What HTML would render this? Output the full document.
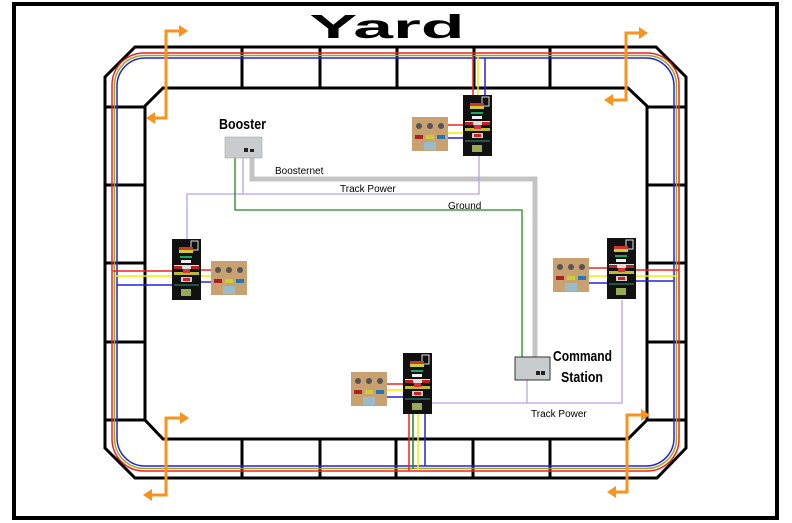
<!DOCTYPE html>
<html><head><meta charset="utf-8"><style>
html,body{margin:0;padding:0;background:#fff;}
svg{display:block;}
text{font-family:"Liberation Sans",Arial,sans-serif;}
</style></head><body>
<svg width="792" height="523" viewBox="0 0 792 523" xmlns="http://www.w3.org/2000/svg">
<defs>
<g id="panel">
  <rect x="0" y="0" width="29" height="61" fill="#111"/>
  <rect x="19" y="2" width="7" height="9" fill="none" stroke="#ddd" stroke-width="1"/>
  <rect x="7" y="8" width="14" height="3" fill="#c33"/>
  <rect x="7" y="11" width="14" height="3" fill="#cc3"/>
  <rect x="8" y="17" width="12" height="2" fill="#1a6"/>
  <rect x="9" y="21" width="10" height="3" fill="#eee"/>
  <rect x="2" y="26" width="25" height="4" fill="#ddd"/>
  <rect x="2" y="27" width="8" height="3" fill="#b22"/>
  <rect x="19" y="27" width="8" height="3" fill="#b22"/>
  <rect x="2" y="33" width="25" height="3" fill="#bb3"/>
  <rect x="11" y="30" width="7" height="4" fill="#d33"/>
  <rect x="9" y="38" width="11" height="5" fill="#ccc"/>
  <rect x="11" y="39" width="7" height="3" fill="#c22"/>
  <rect x="2" y="45" width="25" height="2" fill="#254"/>
  <rect x="9" y="50" width="10" height="7" fill="#9a5"/>
</g>
<g id="tan">
  <rect x="0" y="0" width="36" height="34" fill="#c9a070"/>
  <circle cx="7" cy="9" r="3" fill="#555"/>
  <circle cx="18" cy="9" r="3" fill="#555"/>
  <circle cx="29" cy="9" r="3" fill="#555"/>
  <rect x="3" y="18" width="8" height="4" fill="#a22"/>
  <rect x="14" y="18" width="8" height="4" fill="#cc3"/>
  <rect x="25" y="18" width="8" height="4" fill="#27b"/>
  <rect x="12" y="25" width="12" height="8" fill="#9bc"/>
</g>
</defs>

<!-- outer frame -->
<rect x="14" y="4" width="763" height="514" fill="none" stroke="#000" stroke-width="4"/>

<!-- title -->
<text x="387" y="38" font-size="33" font-weight="bold" text-anchor="middle" textLength="155" lengthAdjust="spacingAndGlyphs">Yard</text>

<!-- track bed -->
<g fill="none" stroke="#000" stroke-width="3">
  <polygon points="135,47 656,47 686,77 686,448 657,478 135,478 105,448 105,77"/>
  <polygon points="163,88 628,88 647,106 647,420 628,439 163,439 145,420 145,106"/>
  <!-- top cross -->
  <line x1="242" y1="47" x2="242" y2="88"/><line x1="320" y1="47" x2="320" y2="88"/>
  <line x1="397" y1="47" x2="397" y2="88"/><line x1="474" y1="47" x2="474" y2="88"/>
  <line x1="550" y1="47" x2="550" y2="88"/>
  <!-- bottom cross -->
  <line x1="242" y1="439" x2="242" y2="478"/><line x1="320" y1="439" x2="320" y2="478"/>
  <line x1="396" y1="439" x2="396" y2="478"/><line x1="473" y1="439" x2="473" y2="478"/>
  <line x1="550" y1="439" x2="550" y2="478"/>
  <!-- left cross -->
  <line x1="105" y1="107" x2="145" y2="107"/><line x1="105" y1="185" x2="145" y2="185"/>
  <line x1="105" y1="263" x2="145" y2="263"/><line x1="105" y1="342" x2="145" y2="342"/>
  <line x1="105" y1="420" x2="145" y2="420"/>
  <!-- right cross -->
  <line x1="647" y1="107" x2="686" y2="107"/><line x1="647" y1="185" x2="686" y2="185"/>
  <line x1="647" y1="263" x2="686" y2="263"/><line x1="647" y1="342" x2="686" y2="342"/>
  <line x1="647" y1="420" x2="686" y2="420"/>
</g>

<!-- track rails -->
<g fill="none" stroke-width="1.5">
  <rect x="112" y="53" width="567" height="418" rx="32" stroke="#e22"/>
  <rect x="114.5" y="55.5" width="562" height="413" rx="30" stroke="#9a2"/>
  <rect x="117" y="58" width="557" height="408" rx="28" stroke="#22d"/>
</g>

<!-- wires: boosternet -->
<polyline points="252,158 252,179 535,179 535,357" fill="none" stroke="#c4c4c4" stroke-width="5"/>
<!-- track power -->
<g fill="none" stroke="#b9a0e6" stroke-width="1.3">
  <polyline points="243,158 243,194 479,194 479,155"/>
  <polyline points="243,194 187,194 187,240"/>
  <polyline points="432,403 622,403 622,300"/>
  <polyline points="527,380 527,403"/>
</g>
<!-- ground -->
<polyline points="235,158 235,210 522,210 522,357" fill="none" stroke="#1a8a1a" stroke-width="1.3"/>

<!-- booster -->
<rect x="225" y="137" width="37" height="21" fill="#c8cccc" stroke="#999" stroke-width="0.5"/>
<rect x="244" y="148" width="4" height="4" fill="#222"/><rect x="250" y="149" width="4" height="3" fill="#222"/>
<!-- command station -->
<rect x="515" y="357" width="35" height="23" fill="#c8cccc" stroke="#333" stroke-width="1"/>
<rect x="536" y="371" width="4" height="4" fill="#222"/><rect x="541" y="371" width="4" height="4" fill="#222"/>

<!-- feeder wires -->
<g stroke-width="1.5">
  <line x1="473" y1="55" x2="473" y2="100" stroke="#e22"/>
  <line x1="478" y1="56" x2="478" y2="100" stroke="#ee0"/>
  <line x1="485" y1="58" x2="485" y2="100" stroke="#22d"/>
  <line x1="447" y1="125" x2="466" y2="125" stroke="#e22"/>
  <line x1="447" y1="133" x2="466" y2="133" stroke="#ee0"/>
  <line x1="447" y1="138" x2="466" y2="138" stroke="#22d"/>

  <line x1="113" y1="271" x2="175" y2="271" stroke="#e22"/>
  <line x1="115" y1="276" x2="175" y2="276" stroke="#ee0"/>
  <line x1="117" y1="285" x2="175" y2="285" stroke="#22d"/>
  <line x1="197" y1="270" x2="212" y2="270" stroke="#e22"/>
  <line x1="197" y1="276" x2="212" y2="276" stroke="#ee0"/>
  <line x1="197" y1="282" x2="212" y2="282" stroke="#22d"/>

  <line x1="634" y1="270" x2="679" y2="270" stroke="#e22"/>
  <line x1="634" y1="276" x2="677" y2="276" stroke="#ee0"/>
  <line x1="634" y1="281" x2="674" y2="281" stroke="#22d"/>
  <line x1="588" y1="268" x2="609" y2="268" stroke="#e22"/>
  <line x1="588" y1="276" x2="609" y2="276" stroke="#ee0"/>
  <line x1="588" y1="283" x2="609" y2="283" stroke="#22d"/>

  <line x1="409" y1="414" x2="409" y2="471" stroke="#e22"/>
  <line x1="413" y1="414" x2="413" y2="469" stroke="#1a8a1a"/>
  <line x1="418" y1="414" x2="418" y2="469" stroke="#ee0"/>
  <line x1="425" y1="414" x2="425" y2="466" stroke="#22d"/>
  <line x1="387" y1="384" x2="406" y2="384" stroke="#e22"/>
  <line x1="387" y1="390" x2="406" y2="390" stroke="#ee0"/>
  <line x1="387" y1="397" x2="406" y2="397" stroke="#22d"/>
</g>

<!-- panels -->
<use href="#panel" x="463" y="95"/>
<use href="#panel" x="172" y="239"/>
<use href="#panel" x="607" y="238"/>
<use href="#panel" x="403" y="353"/>
<use href="#tan" x="412" y="117"/>
<use href="#tan" x="211" y="261"/>
<use href="#tan" x="553" y="258"/>
<use href="#tan" x="351" y="372"/>

<!-- labels -->
<text x="219" y="129" font-size="15" font-weight="bold" textLength="47" lengthAdjust="spacingAndGlyphs">Booster</text>
<text x="553" y="361" font-size="15" font-weight="bold" textLength="59" lengthAdjust="spacingAndGlyphs">Command</text>
<text x="561" y="382" font-size="15" font-weight="bold" textLength="42" lengthAdjust="spacingAndGlyphs">Station</text>
<text x="275" y="174" font-size="10">Boosternet</text>
<text x="340" y="192" font-size="10">Track Power</text>
<text x="448" y="209" font-size="10">Ground</text>
<text x="531" y="417" font-size="10">Track Power</text>

<!-- orange arrows -->
<g fill="none" stroke="#f7931e" stroke-width="3">
  <polyline points="183,31 166,31 166,118 152,118"/>
  <polyline points="643,33 626,33 626,100 610,100"/>
  <polyline points="184,418 166,418 166,495 149,495"/>
  <polyline points="645,415 627,415 627,492 613,492"/>
</g>
<g fill="#f7931e">
  <polygon points="188,31 179,25 179,37"/>
  <polygon points="146,118 155,112 155,124"/>
  <polygon points="648,33 639,27 639,39"/>
  <polygon points="604,100 613,94 613,106"/>
  <polygon points="189,418 180,412 180,424"/>
  <polygon points="143,495 152,489 152,501"/>
  <polygon points="650,415 641,409 641,421"/>
  <polygon points="607,492 616,486 616,498"/>
</g>
</svg>
</body></html>
